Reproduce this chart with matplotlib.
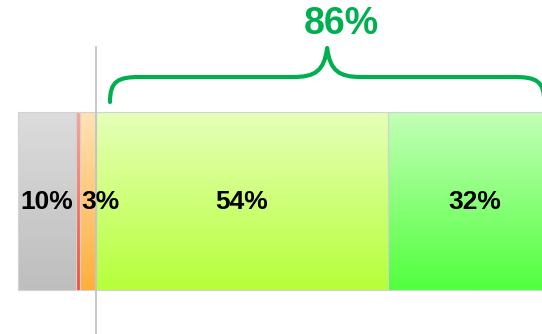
import numpy as np
import matplotlib
matplotlib.use("Agg")
import matplotlib.pyplot as plt
from matplotlib.patches import Rectangle
from matplotlib.path import Path
from matplotlib.patches import PathPatch
from matplotlib.colors import to_rgb

# ---- data ----
neg_values = [10.6, 0.75, 3.0]         # left of zero (outer -> inner)
neg_labels = ["10%", "", "3%"]
pos_values = [54, 32]                  # right of zero
pos_labels = ["54%", "32%"]
total_label = "86%"

neg_top = ["#dcdcdc", "#f4a49a", "#ffe2b4"]
neg_bot = ["#bebebe", "#f0503c", "#ffae3c"]
pos_top = ["#e6ffb8", "#c2ffb6"]
pos_bot = ["#b6ff3a", "#52ff3e"]
brace_color = "#00b050"

# ---- layout ----
W, H = 542, 334
PX_PER = 5.41
ZERO_PX = 96
fig = plt.figure(figsize=(W / 100, H / 100), dpi=100)
ax = fig.add_axes([0, 0, 1, 1])
ax.set_xlim(-ZERO_PX / PX_PER, (W - ZERO_PX) / PX_PER)
ax.set_ylim(H, 0)
ax.axis("off")

bar_top, bar_bot = 112, 290
label_y = 202


def grad_bar(l, r, c_top, c_bot):
    n = 64
    t = np.linspace(0, 1, n)[:, None]
    a = np.array(to_rgb(c_top)); b = np.array(to_rgb(c_bot))
    img = (a[None, :] * (1 - t) + b[None, :] * t)[:, None, :]
    ax.imshow(img, extent=[l, r, bar_bot, bar_top], origin="upper",
              aspect="auto", interpolation="bilinear", zorder=1)
    ax.add_patch(Rectangle((l, bar_top), r - l, bar_bot - bar_top,
                           fill=False, edgecolor="#d2d2d2", lw=0.8, zorder=2))


segs = []
x = 0
for v, lab, ct, cb in reversed(list(zip(neg_values, neg_labels, neg_top, neg_bot))):
    segs.append((x - v, x, lab, ct, cb))
    x -= v
x = 0
for v, lab, ct, cb in zip(pos_values, pos_labels, pos_top, pos_bot):
    segs.append((x, x + v, lab, ct, cb))
    x += v

for l, r, lab, ct, cb in segs:
    grad_bar(l, r, ct, cb)
    if lab:
        width_px = (r - l) * PX_PER
        if width_px < 40:
            ax.text(l + 2 / PX_PER, label_y, lab, ha="left", va="center",
                    fontsize=19, fontweight="bold", family="Liberation Sans",
                    color="black", zorder=4)
        else:
            ax.text((l + r) / 2, label_y, lab, ha="center", va="center",
                    fontsize=19, fontweight="bold", family="Liberation Sans",
                    color="black", zorder=4)

ax.set_xlim(-ZERO_PX / PX_PER, (W - ZERO_PX) / PX_PER)
ax.set_ylim(H, 0)

# zero line
ax.plot([0, 0], [47, H], color="#c4c4c4", lw=1.3, zorder=3)

# brace over positive total
tot = sum(pos_values)
p = 1 / PX_PER
xl = 14 * p
xr = tot - 17 * p
xm = (xl + xr) / 2
yb, yh, yc = 102, 77, 48
verts = [
    (xl, yb),
    (xl, yh + 4), (xl + 8 * p, yh), (xl + 30 * p, yh),
    (xm - 34 * p, yh),
    (xm - 12 * p, yh), (xm - 3 * p, yh - 6), (xm, yc),
    (xm + 3 * p, yh - 6), (xm + 12 * p, yh), (xm + 34 * p, yh),
    (xr - 30 * p, yh),
    (xr - 8 * p, yh), (xr, yh + 4), (xr, yb),
]
codes = [Path.MOVETO,
         Path.CURVE4, Path.CURVE4, Path.CURVE4,
         Path.LINETO,
         Path.CURVE4, Path.CURVE4, Path.CURVE4,
         Path.CURVE4, Path.CURVE4, Path.CURVE4,
         Path.LINETO,
         Path.CURVE4, Path.CURVE4, Path.CURVE4]
ax.add_patch(PathPatch(Path(verts, codes), fill=False, edgecolor=brace_color,
                       lw=3, capstyle="round", joinstyle="round", zorder=5))
ax.text(xm + 14 * p, 24, total_label, ha="center", va="center", fontsize=27,
        fontweight="bold", family="Liberation Sans", color=brace_color, zorder=5)

fig.savefig("out.png", dpi=100)
